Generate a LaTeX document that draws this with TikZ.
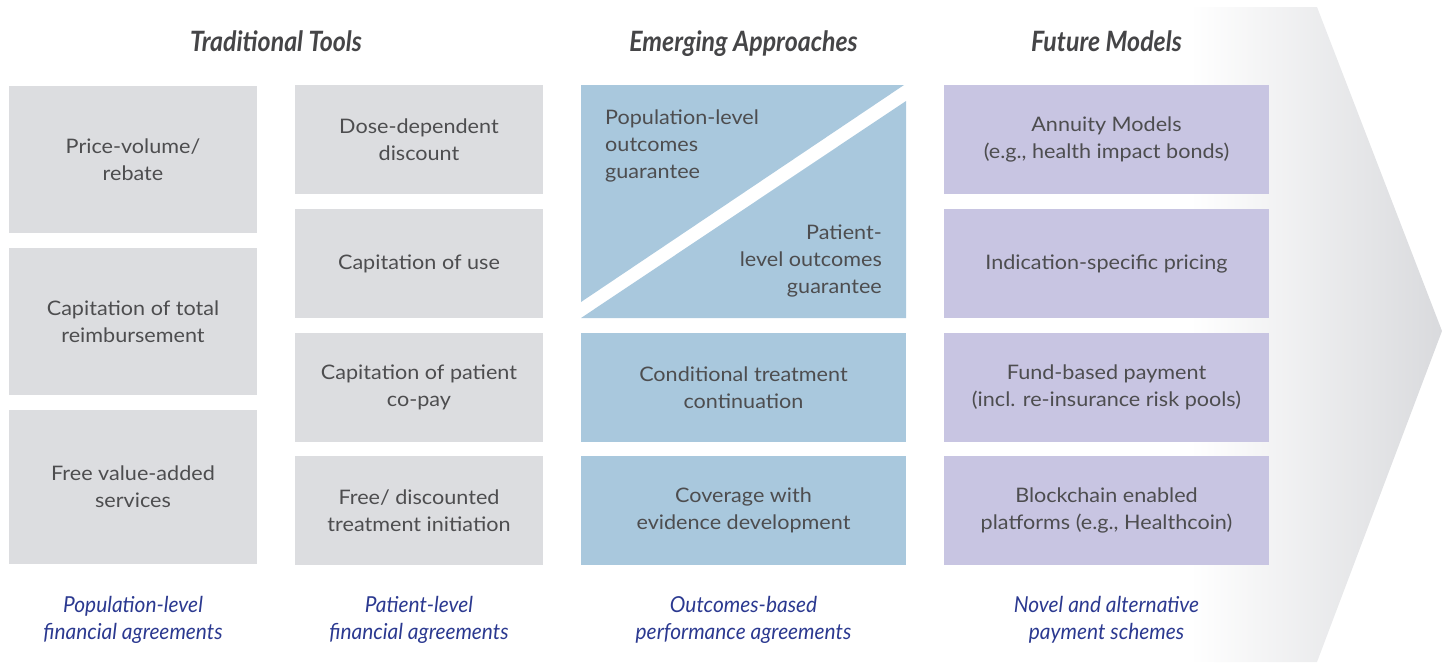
\documentclass[tikz,border=0pt]{standalone}
\usepackage{fontspec}
\setmainfont{Lato}[FakeStretch=1.08]
\newfontfamily\condfont[FakeStretch=0.89]{Lato}
\newfontfamily\footfont[FakeStretch=0.95]{Lato}
\definecolor{boxgray}{HTML}{DCDDE0}
\definecolor{boxblue}{HTML}{A9C8DD}
\definecolor{boxlilac}{HTML}{C8C5E2}
\definecolor{txtgray}{HTML}{4D4D4F}
\definecolor{headgray}{HTML}{454547}
\definecolor{footblue}{HTML}{2B3990}
\definecolor{arrowgray}{HTML}{D9DADD}
\tikzset{
  cell/.style={rectangle,inner sep=0pt,align=center,text=txtgray,
    font=\fontsize{20}{27}\selectfont},
  graycell/.style={cell,fill=boxgray,minimum width=248pt},
  bluecell/.style={cell,fill=boxblue,minimum width=325pt,minimum height=109pt},
  lilaccell/.style={cell,fill=boxlilac,minimum width=325pt,minimum height=109pt},
  colhead/.style={text=headgray,anchor=base,
    font=\condfont\bfseries\itshape\fontsize{28}{30}\selectfont},
  colfoot/.style={text=footblue,align=center,
    font=\footfont\itshape\fontsize{22}{27}\selectfont}
}
\begin{document}
\begin{tikzpicture}[x=1pt,y=-1pt]
    \useasboundingbox (0,0) rectangle (1442,662);
    \shade[left color=white,right color=arrowgray] (1190,7) -- (1317,7) -- (1442,331) -- (1317,662) -- (1190,662) -- cycle;

    \node[colhead] (hTrad) at (276,51) {Traditional Tools};
    \node[colhead] (hEmer) at (743.5,51) {Emerging Approaches};
    \node[colhead] (hFut) at (1106.5,51) {Future Models};

    \node[graycell,minimum height=147pt] (pop1) at (133,159.5) {Price-volume/\\rebate};
    \node[graycell,minimum height=147pt] (pop2) at (133,321.5) {Capitation of total\\reimbursement};
    \node[graycell,minimum height=154pt] (pop3) at (133,487) {Free value-added\\services};

    \node[graycell,minimum height=109pt] (pat1) at (419,139.5) {Dose-dependent\\discount};
    \node[graycell,minimum height=109pt] (pat2) at (419,263.5) {Capitation of use};
    \node[graycell,minimum height=109pt] (pat3) at (419,387.5) {Capitation of patient\\co-pay};
    \node[graycell,minimum height=109pt] (pat4) at (419,510.5) {Free/ discounted\\treatment initiation};

    \fill[boxblue] (581,85) -- (904,85) -- (581,302) -- cycle;
    \fill[boxblue] (906,101) -- (906,318) -- (581,318) -- cycle;
    \node[cell,align=left,anchor=north west] (outPop) at (605,110) {Population-level\\outcomes\\guarantee};
    \node[cell,align=right,anchor=north east] (outPat) at (882,225) {Patient-\\level outcomes\\guarantee};
    \node[bluecell] (out3) at (743.5,387.5) {Conditional treatment\\continuation};
    \node[bluecell] (out4) at (743.5,510.5) {Coverage with\\evidence development};

    \node[lilaccell] (fut1) at (1106.5,139.5) {Annuity Models\\(e.g., health impact bonds)};
    \node[lilaccell] (fut2) at (1106.5,263.5) {Indication-specific pricing};
    \node[lilaccell] (fut3) at (1106.5,387.5) {Fund-based payment\\(incl. re-insurance risk pools)};
    \node[lilaccell] (fut4) at (1106.5,510.5) {Blockchain enabled\\platforms (e.g., Healthcoin)};

    \node[colfoot] (fPop) at (133,620) {Population-level\\financial agreements};
    \node[colfoot] (fPat) at (419,620) {Patient-level\\financial agreements};
    \node[colfoot] (fOut) at (743.5,620) {Outcomes-based\\performance agreements};
    \node[colfoot] (fFut) at (1106.5,620) {Novel and alternative\\payment schemes};
\end{tikzpicture}
\end{document}
